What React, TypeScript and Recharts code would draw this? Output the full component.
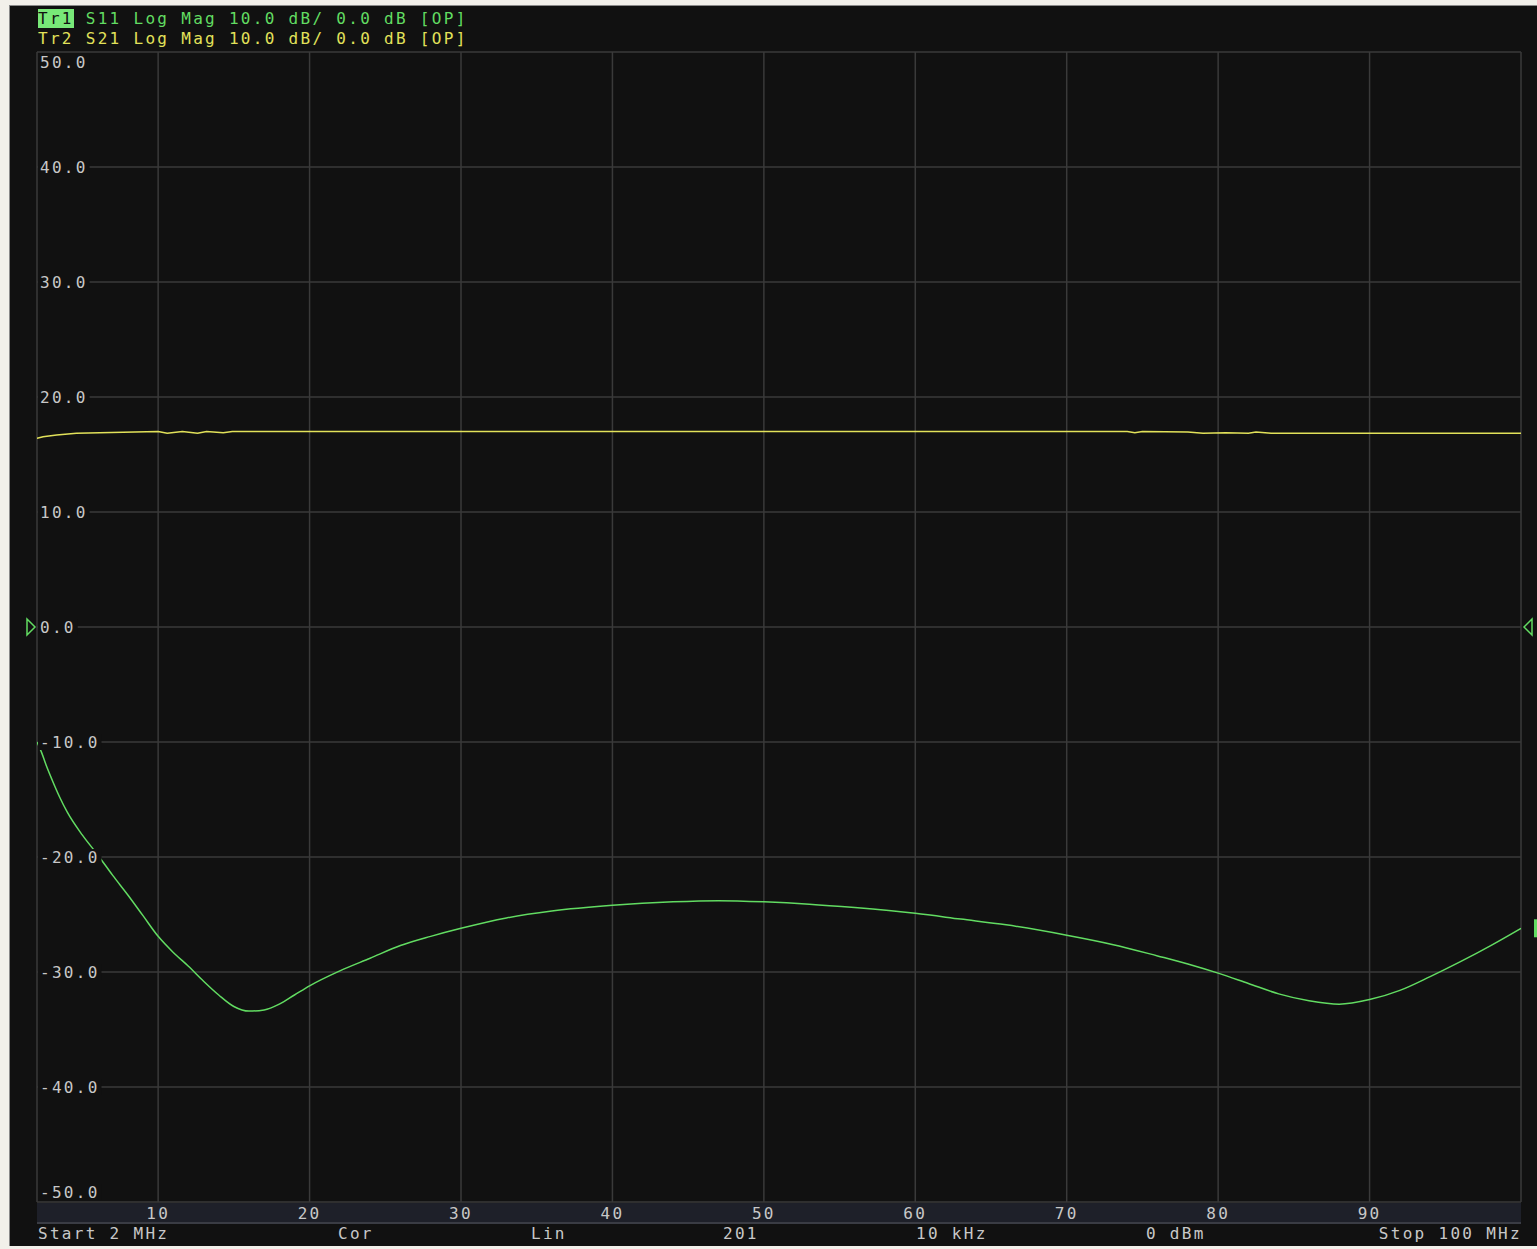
import React from 'react';
import { LineChart, Line, XAxis, YAxis, CartesianGrid, ReferenceDot } from 'recharts';

// frequency axis (MHz)
const xTicks = [2, 10, 20, 30, 40, 50, 60, 70, 80, 90, 100];
const yTicks = [-50, -40, -30, -20, -10, 0, 10, 20, 30, 40, 50];

// Tr1 S11 (dB)
const s11Freq = [2, 2.3, 2.6, 3, 3.5, 4, 5, 6, 7, 8, 9, 10, 11, 12, 13, 14, 15, 16, 17, 18, 19, 20, 22, 24, 26, 28, 30, 33, 36, 40, 44, 47, 50, 53, 56, 60, 63, 66, 70, 73, 76, 78, 80, 82, 84, 86, 88, 90, 92, 94, 96, 98, 100];
const s11Db = [-10.0, -10.9, -12.0, -13.3, -14.8, -16.1, -18.1, -19.8, -21.6, -23.3, -25.1, -26.9, -28.3, -29.5, -30.8, -32.0, -33.0, -33.4, -33.3, -32.8, -32.0, -31.2, -29.9, -28.8, -27.7, -26.9, -26.2, -25.3, -24.7, -24.2, -23.9, -23.8, -23.9, -24.1, -24.4, -24.9, -25.4, -25.9, -26.8, -27.6, -28.6, -29.3, -30.1, -31.0, -31.9, -32.5, -32.8, -32.4, -31.6, -30.4, -29.1, -27.7, -26.2];

// Tr2 S21 (dB)
const s21Freq = [2, 2.4, 3.3, 4.6, 10, 10.6, 11.6, 12.6, 13.2, 14.3, 14.9, 74, 74.5, 75, 78, 79, 80.5, 82, 82.5, 83.5, 84, 100];
const s21Db = [16.4, 16.55, 16.7, 16.85, 17.0, 16.85, 17.0, 16.85, 17.0, 16.9, 17.0, 17.0, 16.9, 17.0, 16.95, 16.85, 16.9, 16.85, 16.95, 16.85, 16.85, 16.85];

const s11Data = s11Freq.map((f, i) => ({ f, v: s11Db[i] }));
const s21Data = s21Freq.map((f, i) => ({ f, v: s21Db[i] }));

const MONO = '"DejaVu Sans Mono", "Liberation Mono", monospace';
const GREEN = '#62dc62';
const YELLOW = '#e2e25a';
const LABEL = '#c8c8c8';
const GRID = '#3a3a3a';

const YTick = (props: any) => {
  const { x, y, payload } = props;
  const v = payload.value;
  const txt = v.toFixed(1);
  let cy = y;
  if (v === 50) cy = y + 10;
  if (v === -50) cy = y - 10;
  const w = txt.length * 11.9 + 4;
  return (
    <g>
      <rect x={x + 1} y={cy - 8} width={w} height={16} fill="#111111" />
      <text x={x + 3} y={cy} dy={6} fill={LABEL} fontFamily={MONO} fontSize={16} letterSpacing={2.3} textAnchor="start">
        {txt}
      </text>
    </g>
  );
};

const XTick = (props: any) => {
  const { x, y, payload } = props;
  if (payload.value === 2 || payload.value === 100) return null;
  return (
    <text x={x} y={y + 17} textAnchor="middle" fill={LABEL} fontFamily={MONO} fontSize={16} letterSpacing={2.3}>
      {payload.value}
    </text>
  );
};

const LeftMarker = (props: any) => (
  <path d={`M ${props.cx - 10} ${props.cy - 8} L ${props.cx - 2} ${props.cy} L ${props.cx - 10} ${props.cy + 8} Z`} fill="none" stroke={GREEN} strokeWidth={1.5} />
);
const RightMarker = (props: any) => (
  <path d={`M ${props.cx + 11} ${props.cy - 8} L ${props.cx + 3} ${props.cy} L ${props.cx + 11} ${props.cy + 8} Z`} fill="none" stroke={GREEN} strokeWidth={1.5} />
);
const EndMarker = (props: any) => (
  <rect x={props.cx + 13} y={props.cy - 9} width={6} height={18} fill={props.color} />
);

const textStyle: React.CSSProperties = {
  position: 'absolute',
  fontFamily: MONO,
  fontSize: 16,
  letterSpacing: 2.3,
  whiteSpace: 'pre',
  lineHeight: '18px',
  color: LABEL,
};

const status = [
  { text: 'Start 2 MHz', left: 38 },
  { text: 'Cor', left: 338 },
  { text: 'Lin', left: 531 },
  { text: '201', left: 723 },
  { text: '10 kHz', left: 916 },
  { text: '0 dBm', left: 1146 },
];

export default function App() {
  return (
    <div style={{ position: 'absolute', left: 0, top: 0, width: 1537, height: 1249, background: '#f2f0ea', overflow: 'hidden' }}>
      <div style={{ position: 'absolute', left: 9, top: 5, width: 1528, height: 1240, background: '#111111', borderLeft: '1px solid #8a8a8a', borderTop: '1px solid #8a8a8a' }} />
      {/* x label band */}
      <div style={{ position: 'absolute', left: 37, top: 1203, width: 1484, height: 19, background: '#1e2029', borderBottom: '2px solid #3a3c44' }} />
      <div style={{ position: 'absolute', left: 0, top: 0 }}>
        <LineChart width={1537} height={1249} data={s11Data} margin={{ top: 52, right: 16, bottom: 27, left: 37 }}>
          <CartesianGrid stroke={GRID} strokeWidth={1.5} />
          <XAxis
            dataKey="f"
            type="number"
            domain={[2, 100]}
            ticks={xTicks}
            tick={<XTick />}
            tickSize={0}
            tickMargin={0}
            axisLine={false}
            tickLine={false}
            allowDataOverflow
            height={20}
          />
          <YAxis
            type="number"
            domain={[-50, 50]}
            ticks={yTicks}
            tick={<YTick />}
            tickSize={0}
            tickMargin={0}
            axisLine={false}
            tickLine={false}
            mirror
            width={70}
            interval={0}
          />
          <Line data={s21Data} dataKey="v" type="linear" stroke={YELLOW} strokeWidth={1.5} dot={false} isAnimationActive={false} />
          <Line data={s11Data} dataKey="v" type="monotone" stroke={GREEN} strokeWidth={1.5} dot={false} isAnimationActive={false} />
          <ReferenceDot x={2} y={0} r={0} shape={<LeftMarker />} ifOverflow="visible" />
          <ReferenceDot x={100} y={0} r={0} shape={<RightMarker />} ifOverflow="visible" />
          <ReferenceDot x={100} y={s11Db[s11Db.length - 1]} r={0} shape={<EndMarker color={GREEN} />} ifOverflow="visible" />
        </LineChart>
      </div>
      {/* header */}
      <div style={{ ...textStyle, left: 38, top: 10, color: GREEN }}>
        <span style={{ background: '#78e878', color: '#111111' }}>Tr1</span>
        {' S11 Log Mag 10.0 dB/ 0.0 dB [OP]'}
      </div>
      <div style={{ ...textStyle, left: 38, top: 30, color: YELLOW }}>
        {'Tr2 S21 Log Mag 10.0 dB/ 0.0 dB [OP]'}
      </div>
      {/* status line */}
      {status.map((s) => (
        <div key={s.text} style={{ ...textStyle, left: s.left, top: 1225 }}>
          {s.text}
        </div>
      ))}
      <div style={{ ...textStyle, right: 15, top: 1225 }}>Stop 100 MHz</div>
    </div>
  );
}
